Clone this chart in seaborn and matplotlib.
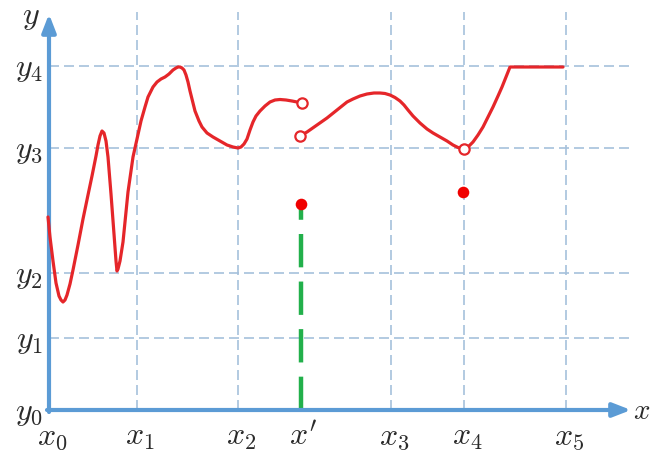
import matplotlib
matplotlib.use("Agg")
import matplotlib.pyplot as plt
import seaborn as sns
import pandas as pd

# ---- data (pixel-like units, y grows downward) ----
x_grid = [137, 238, 391, 464, 566]
x_tick_labels = [r"$x_0$", r"$x_1$", r"$x_2$", r"$x'$", r"$x_3$", r"$x_4$", r"$x_5$"]
x_tick_pos = [49, 137, 238, 301, 391, 464, 566]
y_grid = [67, 149, 274, 339]
y_tick_labels = [r"$y_0$", r"$y_1$", r"$y_2$", r"$y_3$", r"$y_4$"]
y_tick_pos = [411, 339, 274, 149, 67]

seg1_x = [48, 50, 53, 56, 59, 61, 63, 65, 67, 70, 73, 78, 83, 88, 92, 96, 98, 100, 102,
          104, 106, 108, 111, 114, 116, 117, 118, 120, 123, 128, 133, 137, 141, 145, 148,
          153, 157, 161, 165, 169, 173, 176, 178, 180, 182, 184, 186, 188, 190, 195, 199,
          202, 207, 213, 220, 227, 233, 238, 241, 244, 247, 250, 253, 256, 260, 265, 270,
          275, 280, 286, 292, 297, 302]
seg1_y = [218, 238, 262, 284, 297, 301, 303, 301, 296, 285, 271, 246, 220, 196, 177, 157,
          146, 137, 132, 134, 142, 158, 195, 235, 262, 272, 270, 262, 243, 193, 158, 140,
          122, 108, 98, 88, 83, 80, 78, 75, 71, 69, 68, 68, 69, 71, 76, 83, 92, 112, 122,
          128, 134, 138, 142, 146, 148, 149, 148, 145, 140, 131, 123, 117, 112, 107, 103,
          101, 100.5, 101, 102, 103, 105]
seg2_x = [300, 307, 317, 327, 337, 347, 353, 360, 367, 374, 380, 385, 390, 395, 400, 404,
          408, 413, 420, 427, 433, 440, 447, 453, 458, 464, 467, 470, 473, 478, 483, 488,
          493, 498, 502, 506, 510, 563]
seg2_y = [137, 133, 126, 119, 111, 103, 100, 97, 95, 94, 94, 94.5, 96, 98.5, 102, 106,
          111, 117, 124, 130, 134, 138, 142, 146, 148.5, 150, 149, 146, 143, 136, 128, 118,
          108, 97, 88, 78, 68, 68]

open_x = [302, 300, 464]
open_y = [104, 137, 150]
dot_x = [301, 463]
dot_y = [205, 193]
xprime = 301
xprime_top = 209

# ---- figure ----
sns.set_theme(style="white")
plt.rcParams["mathtext.fontset"] = "cm"
fig = plt.figure(figsize=(6.52, 4.52), dpi=100)
ax = fig.add_axes([0, 0, 1, 1])

grid_c = "#A6C1DB"
for gx in x_grid:
    ax.plot([gx, gx], [411, 13], color=grid_c, lw=1.2, dashes=(6, 3), zorder=1)
for gy in y_grid:
    ax.plot([49, 629], [gy, gy], color=grid_c, lw=1.2, dashes=(6, 3), zorder=1)

# axes arrows
axis_c = "#5B9BD5"
ax.annotate("", xy=(631, 411), xytext=(47, 411),
            arrowprops=dict(arrowstyle="-|>,head_length=0.9,head_width=0.35",
                            color=axis_c, lw=3, shrinkA=0, shrinkB=0), zorder=3)
ax.annotate("", xy=(49, 15), xytext=(49, 413),
            arrowprops=dict(arrowstyle="-|>,head_length=0.9,head_width=0.35",
                            color=axis_c, lw=3, shrinkA=0, shrinkB=0), zorder=3)

# green dashed line at x'
ax.plot([xprime, xprime], [411, xprime_top], color="#22B04B", lw=3.2, dashes=(7.5, 3.2),
        zorder=2, solid_capstyle="butt")

red = "#E5262A"
df1 = pd.DataFrame({"x": seg1_x, "y": seg1_y})
df2 = pd.DataFrame({"x": seg2_x, "y": seg2_y})
sns.lineplot(data=df1, x="x", y="y", sort=False, estimator=None, color=red, lw=2.3, ax=ax, zorder=4)
sns.lineplot(data=df2, x="x", y="y", sort=False, estimator=None, color=red, lw=2.3, ax=ax, zorder=4)
sns.scatterplot(x=open_x, y=open_y, s=55, color="white", edgecolor=red, linewidth=1.6, ax=ax, zorder=5)
sns.scatterplot(x=dot_x, y=dot_y, s=70, color="#F00000", edgecolor="#F00000", linewidth=0, ax=ax, zorder=5)
ax.set_xlim(0, 652)
ax.set_ylim(452, 0)
ax.axis("off")

txt_c = "#2B2B2B"
fs = 23
for lab, px in zip(x_tick_labels, x_tick_pos):
    ax.text(px - 12, 437, lab, ha="left", va="center", fontsize=fs, color=txt_c)
for lab, py in zip(y_tick_labels, y_tick_pos):
    ax.text(43, py + 2, lab, ha="right", va="center", fontsize=fs, color=txt_c)
ax.text(31, 16, r"$y$", ha="center", va="center", fontsize=fs, color=txt_c)
ax.text(633, 411, r"$x$", ha="left", va="center", fontsize=21, color=txt_c)

fig.savefig("out.png", dpi=100)
